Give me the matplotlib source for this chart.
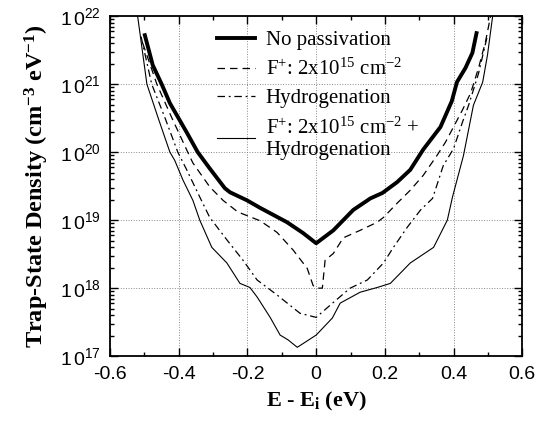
import numpy as np
import matplotlib
matplotlib.use("Agg")
import matplotlib.pyplot as plt
from matplotlib.ticker import MultipleLocator, LogLocator, FuncFormatter, NullFormatter

plt.rcParams['axes.unicode_minus'] = False
plt.rcParams['mathtext.fontset'] = 'custom'
plt.rcParams['mathtext.rm'] = 'Liberation Serif'
plt.rcParams['mathtext.it'] = 'Liberation Serif:italic'
plt.rcParams['mathtext.bf'] = 'Liberation Serif:bold'

# energy (eV) and log10 of trap-state density
no_pass_x = [-0.499, -0.476, -0.45, -0.426, -0.377, -0.345, -0.31, -0.266, -0.251, -0.201,
             -0.163, -0.085, -0.038, 0.0, 0.05, 0.108, 0.158, 0.193, 0.236, 0.274,
             0.312, 0.362, 0.395, 0.41, 0.435, 0.455, 0.467]
no_pass_log = [21.72, 21.28, 21.0, 20.72, 20.29, 20.0, 19.76, 19.47, 19.41, 19.29,
               19.18, 18.97, 18.81, 18.66, 18.85, 19.15, 19.32, 19.4, 19.56, 19.74,
               20.04, 20.37, 20.75, 21.03, 21.24, 21.46, 21.75]

fluor_x = [-0.505, -0.464, -0.42, -0.374, -0.359, -0.31, -0.271, -0.228, -0.163, -0.114,
           -0.067, -0.026, -0.009, 0.0, 0.018, 0.026, 0.05, 0.079, 0.128, 0.178,
           0.196, 0.236, 0.274, 0.312, 0.353, 0.377, 0.426, 0.45, 0.473, 0.493, 0.508]
fluor_log = [21.6, 21.0, 20.5, 20.0, 19.84, 19.49, 19.29, 19.12, 18.99, 18.82,
             18.56, 18.29, 18.04, 18.0, 18.0, 18.41, 18.51, 18.74, 18.85, 18.97,
             19.04, 19.25, 19.44, 19.66, 19.96, 20.15, 20.62, 20.87, 21.24, 21.62, 22.0]

hydro_x = [-0.51, -0.479, -0.44, -0.403, -0.377, -0.339, -0.31, -0.26, -0.213, -0.172,
           -0.114, -0.047, 0.0, 0.05, 0.099, 0.149, 0.196, 0.225, 0.266, 0.304,
           0.339, 0.37, 0.4, 0.426, 0.444, 0.473, 0.499]
hydro_log = [21.7, 21.0, 20.5, 20.0, 19.74, 19.34, 19.04, 18.71, 18.41, 18.12,
             17.9, 17.63, 17.57, 17.79, 18.0, 18.12, 18.37, 18.6, 18.9, 19.15,
             19.32, 19.8, 20.05, 20.44, 20.69, 21.16, 21.72]

both_x = [-0.52, -0.493, -0.46, -0.426, -0.412, -0.388, -0.359, -0.339, -0.304, -0.26,
          -0.222, -0.193, -0.172, -0.134, -0.105, -0.082, -0.055, 0.0, 0.047, 0.07,
          0.128, 0.178, 0.216, 0.274, 0.342, 0.382, 0.397, 0.429, 0.458, 0.485, 0.499, 0.514]
both_log = [22.0, 21.0, 20.5, 20.0, 19.88, 19.59, 19.29, 19.0, 18.6, 18.37,
            18.07, 18.01, 17.87, 17.57, 17.31, 17.24, 17.13, 17.31, 17.56, 17.78,
            17.94, 18.01, 18.07, 18.37, 18.6, 19.0, 19.34, 19.95, 20.69, 21.03, 21.43, 22.0]

labels = ['No passivation',
          r'F$^{+}$: 2x10$^{15}$ cm$^{-2}$',
          'Hydrogenation',
          'F$^{+}$: 2x10$^{15}$ cm$^{-2}$ +\nHydrogenation']

fig = plt.figure(figsize=(5.4, 4.25), dpi=100)
ax = fig.add_axes([0.204, 0.162, 0.763, 0.800])

ax.plot(no_pass_x, np.power(10.0, no_pass_log), color='black', lw=2.8, label=labels[0])
ax.plot(fluor_x, np.power(10.0, fluor_log), color='black', lw=0.9, dashes=(6, 4), label=labels[1])
ax.plot(hydro_x, np.power(10.0, hydro_log), color='black', lw=0.9, dashes=(6, 3, 1.5, 3), label=labels[2])
ax.plot(both_x, np.power(10.0, both_log), color='black', lw=0.8, label=labels[3])

ax.set_yscale('log')
ax.set_xlim(-0.6, 0.6)
ax.set_ylim(1e17, 1e22)

ax.xaxis.set_major_locator(MultipleLocator(0.2))
ax.xaxis.set_minor_locator(MultipleLocator(0.1))
ax.xaxis.set_major_formatter(FuncFormatter(lambda v, p: f'{v:g}' if abs(v) > 1e-9 else '0'))
ax.yaxis.set_major_locator(LogLocator(base=10, numticks=10))
ax.yaxis.set_minor_locator(LogLocator(base=10, subs=np.arange(2, 10), numticks=20))
ax.yaxis.set_minor_formatter(NullFormatter())
ax.yaxis.set_major_formatter(FuncFormatter(lambda v, p: r'$\mathregular{1\,0^{%d}}$' % round(np.log10(v))))

ax.tick_params(which='both', direction='in', top=True, right=True, width=1.0)
ax.tick_params(which='major', length=6, labelsize=14, pad=7)
ax.tick_params(which='minor', length=3)
for lab in ax.get_xticklabels() + ax.get_yticklabels():
    lab.set_family('Liberation Sans')

ax.grid(True, which='major', linestyle=':', color='#888888', lw=0.7)
for s in ax.spines.values():
    s.set_linewidth(1.3)

ax.set_xlabel(r'E - E$_\mathbf{i}$ (eV)', family='Liberation Serif', fontweight='bold', fontsize=16, labelpad=5)
ax.set_ylabel(r'Trap-State Density (cm$^{\mathbf{-3}}$ eV$^{\mathbf{-1}}$)', family='Liberation Serif',
              fontweight='bold', fontsize=17.5, labelpad=6)

leg = ax.legend(loc='upper left', bbox_to_anchor=(0.238, 0.982), frameon=False,
                prop={'family': 'Liberation Serif', 'size': 15}, handlelength=1.85,
                handletextpad=0.5, labelspacing=0.42, borderaxespad=0)

fig.savefig('out.png', dpi=100)
